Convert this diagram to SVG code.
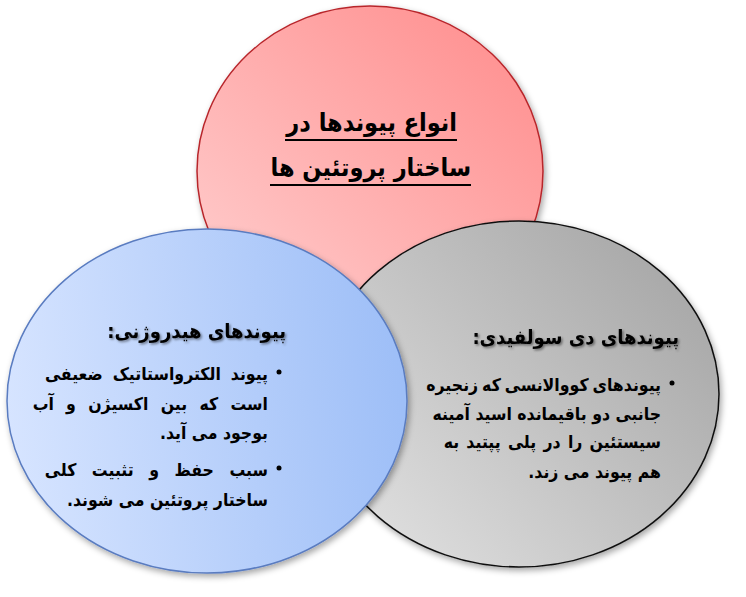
<svg xmlns="http://www.w3.org/2000/svg" width="746" height="597" viewBox="0 0 746 597">
<style>
.t{font-family:"DejaVu Sans Condensed","DejaVu Sans",sans-serif;font-stretch:condensed;font-weight:bold;fill:#000;direction:rtl;text-anchor:start}
.title{font-size:25px}
.head{font-size:20px}
.body{font-size:17.5px}
.ul{stroke:#000;stroke-width:2}
</style>
<defs>
<linearGradient id="gRed" x1="0" y1="1" x2="1" y2="0">
<stop offset="0" stop-color="#ffd2d2"/><stop offset="1" stop-color="#ff8a8a"/>
</linearGradient>
<linearGradient id="gBlue" x1="0" y1="0.5" x2="1" y2="0.4">
<stop offset="0" stop-color="#d6e4ff"/><stop offset="1" stop-color="#9dbef7"/>
</linearGradient>
<linearGradient id="gGray" x1="0" y1="1" x2="1" y2="0.2">
<stop offset="0" stop-color="#e6e6e6"/><stop offset="1" stop-color="#a6a6a6"/>
</linearGradient>
<filter id="sh" x="-10%" y="-10%" width="120%" height="120%">
<feDropShadow dx="2" dy="3" stdDeviation="3" flood-color="#000" flood-opacity="0.35"/>
</filter>
<filter id="tsh" x="-5%" y="-20%" width="110%" height="140%">
<feDropShadow dx="1.5" dy="1.5" stdDeviation="1" flood-color="#000" flood-opacity="0.45"/>
</filter>
</defs>
<g id="red-node">
<ellipse cx="370" cy="171" rx="173" ry="165" fill="url(#gRed)" stroke="#b8262c" stroke-width="1.5" filter="url(#sh)"/>
<text class="t title" x="457" y="131">انواع پیوندها در</text>
<line class="ul" x1="285" y1="140" x2="457" y2="140"/>
<text class="t title" x="471" y="176">ساختار پروتئین ها</text>
<line class="ul" x1="270" y1="185" x2="471" y2="185"/>
</g>
<g id="gray-node">
<ellipse cx="519" cy="394" rx="200" ry="173" fill="url(#gGray)" stroke="#111" stroke-width="1.5" filter="url(#sh)"/>
<text class="t head" x="679" y="344" filter="url(#tsh)">پیوندهای دی سولفیدی:</text>
<circle cx="672" cy="383" r="2.5" fill="#000"/>
<text class="t body" x="661" y="391" word-spacing="-1.5">پیوندهای کووالانسی که زنجیره</text>
<text class="t body" x="661" y="420">جانبی دو باقیمانده اسید آمینه</text>
<text class="t body" x="661" y="448" word-spacing="1.8">سیستئین را در پلی پپتید به</text>
<text class="t body" x="661" y="478">هم پیوند می زند.</text>
</g>
<g id="blue-node">
<ellipse cx="207" cy="401" rx="200" ry="172" fill="url(#gBlue)" stroke="#5a7cc0" stroke-width="1.5" filter="url(#sh)"/>
<text class="t head" x="286" y="338" filter="url(#tsh)">پیوندهای هیدروژنی:</text>
<circle cx="279" cy="372" r="2.5" fill="#000"/>
<text class="t body" x="268" y="380" word-spacing="4.5">پیوند الکترواستاتیک ضعیفی</text>
<text class="t body" x="268" y="410" word-spacing="6.8">است که بین اکسیژن و آب</text>
<text class="t body" x="268" y="439">بوجود می آید.</text>
<circle cx="279" cy="468" r="2.5" fill="#000"/>
<text class="t body" x="268" y="476" word-spacing="10">سبب حفظ و تثبیت کلی</text>
<text class="t body" x="268" y="506">ساختار پروتئین می شوند.</text>
</g>
<g id="connectors"/>
</svg>
